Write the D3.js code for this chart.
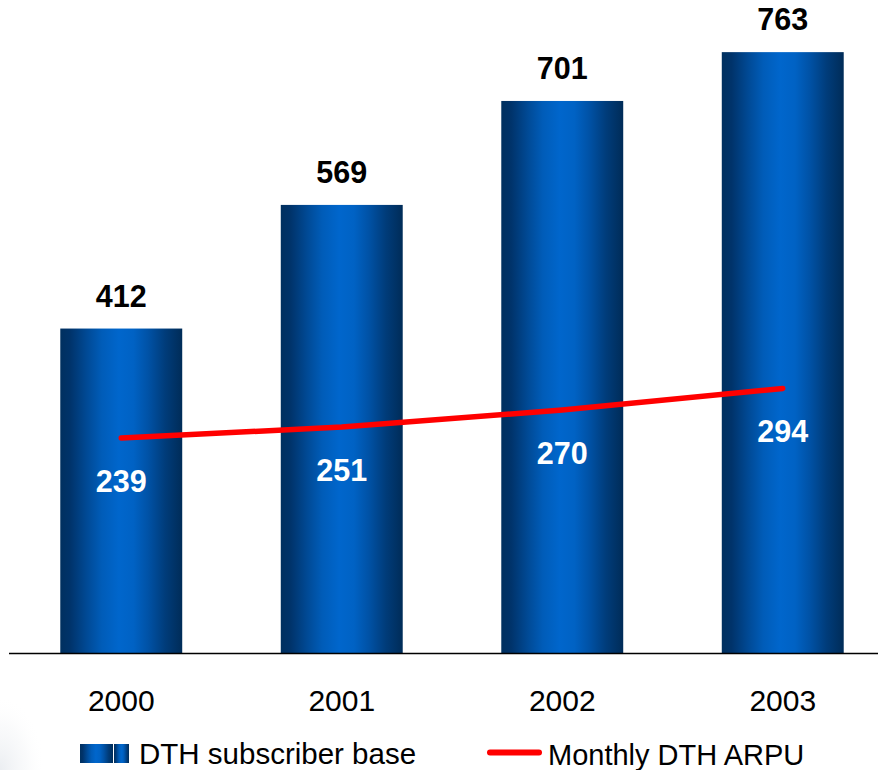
<!DOCTYPE html>
<html>
<head>
<meta charset="utf-8">
<script src="https://cdn.jsdelivr.net/npm/d3@7"></script>
<style>
  html, body { margin: 0; padding: 0; background: #fff; }
  svg { display: block; font-family: "Liberation Sans", Arial, sans-serif; }
</style>
</head>
<body>
<svg id="chart" width="878" height="770"></svg>
<script>
// Yearly figures
const years = ["2000", "2001", "2002", "2003"];
const subscribers = [412, 569, 701, 763];   // DTH subscriber base (bars)
const arpu = [239, 251, 270, 294];          // Monthly DTH ARPU (line)
const legendLabels = ["DTH subscriber base", "Monthly DTH ARPU"];

const svg = d3.select("#chart");
const W = 878, H = 770;

const baseY = 653, topY = 23;

const x = d3.scaleBand().domain(years).range([11, 893]).paddingInner(0.447).paddingOuter(0.2235);
const y = d3.scaleLinear().domain([0, 800]).range([baseY, topY]);
const y2 = d3.scaleLinear().domain([0, 700]).range([baseY, topY]);

// Horizontal cylinder-like shading for the bars
const defs = svg.append("defs");
const grad = defs.append("linearGradient").attr("id", "barGrad")
  .attr("x1", "0%").attr("x2", "100%").attr("y1", "0%").attr("y2", "0%");
[
  [0, "#00305f"], [0.08, "#00336a"], [0.22, "#004a96"], [0.34, "#005cb8"],
  [0.48, "#0066cc"], [0.6, "#0062c4"], [0.72, "#0052a6"], [0.86, "#003c7a"],
  [1, "#002c58"]
].forEach(([o, c]) => grad.append("stop").attr("offset", o).attr("stop-color", c));

// faint grey haze in the lower-left corner
const haze = defs.append("radialGradient").attr("id", "haze")
  .attr("cx", "0%").attr("cy", "100%").attr("r", "100%");
haze.append("stop").attr("offset", 0).attr("stop-color", "#dde2e8").attr("stop-opacity", 0.6);
haze.append("stop").attr("offset", 0.6).attr("stop-color", "#f0f2f5").attr("stop-opacity", 0.35);
haze.append("stop").attr("offset", 1).attr("stop-color", "#ffffff").attr("stop-opacity", 0);
svg.append("rect").attr("x", 0).attr("y", 695).attr("width", 45).attr("height", 75)
  .attr("fill", "url(#haze)");

// Bars
svg.append("g").selectAll("rect").data(years).join("rect")
  .attr("x", d => x(d))
  .attr("width", x.bandwidth())
  .attr("y", (d, i) => y(subscribers[i]))
  .attr("height", (d, i) => baseY - y(subscribers[i]))
  .attr("fill", "url(#barGrad)");

// Baseline
svg.append("line").attr("x1", 9).attr("x2", W).attr("y1", baseY + 0.5).attr("y2", baseY + 0.5)
  .attr("stroke", "#000").attr("stroke-width", 1.4);

// Subscriber value labels above bars
svg.append("g").selectAll("text").data(years).join("text")
  .attr("x", d => x(d) + x.bandwidth() / 2)
  .attr("y", (d, i) => y(subscribers[i]) - 22)
  .attr("text-anchor", "middle")
  .attr("font-size", 30.5).attr("font-weight", "bold").attr("fill", "#000")
  .text((d, i) => subscribers[i]);

// ARPU line
const line = d3.line()
  .x((d, i) => x(years[i]) + x.bandwidth() / 2)
  .y(d => y2(d));
svg.append("path").datum(arpu)
  .attr("d", line)
  .attr("fill", "none").attr("stroke", "#ff0000")
  .attr("stroke-width", 5.5).attr("stroke-linecap", "round").attr("stroke-linejoin", "round");

// ARPU value labels inside bars
svg.append("g").selectAll("text").data(years).join("text")
  .attr("x", d => x(d) + x.bandwidth() / 2)
  .attr("y", (d, i) => y2(arpu[i]) + 54)
  .attr("text-anchor", "middle")
  .attr("font-size", 30.5).attr("font-weight", "bold").attr("fill", "#fff")
  .text((d, i) => arpu[i]);

// Year axis labels
svg.append("g").selectAll("text").data(years).join("text")
  .attr("x", d => x(d) + x.bandwidth() / 2)
  .attr("y", 711)
  .attr("text-anchor", "middle")
  .attr("font-size", 30).attr("fill", "#000")
  .text(d => d);

// Legend
const lg = svg.append("g");
lg.append("rect").attr("x", 80).attr("y", 744).attr("width", 33).attr("height", 19).attr("fill", "url(#barGrad)");
lg.append("rect").attr("x", 114).attr("y", 744).attr("width", 15).attr("height", 19).attr("fill", "url(#barGrad)");
lg.append("text").attr("x", 139).attr("y", 764).attr("font-size", 29.5).attr("fill", "#000")
  .text(legendLabels[0]);
lg.append("line").attr("x1", 490).attr("x2", 539).attr("y1", 752.5).attr("y2", 752.5)
  .attr("stroke", "#ff0000").attr("stroke-width", 6).attr("stroke-linecap", "round");
lg.append("text").attr("x", 548).attr("y", 765).attr("font-size", 29).attr("fill", "#000")
  .text(legendLabels[1]);
</script>
</body>
</html>
